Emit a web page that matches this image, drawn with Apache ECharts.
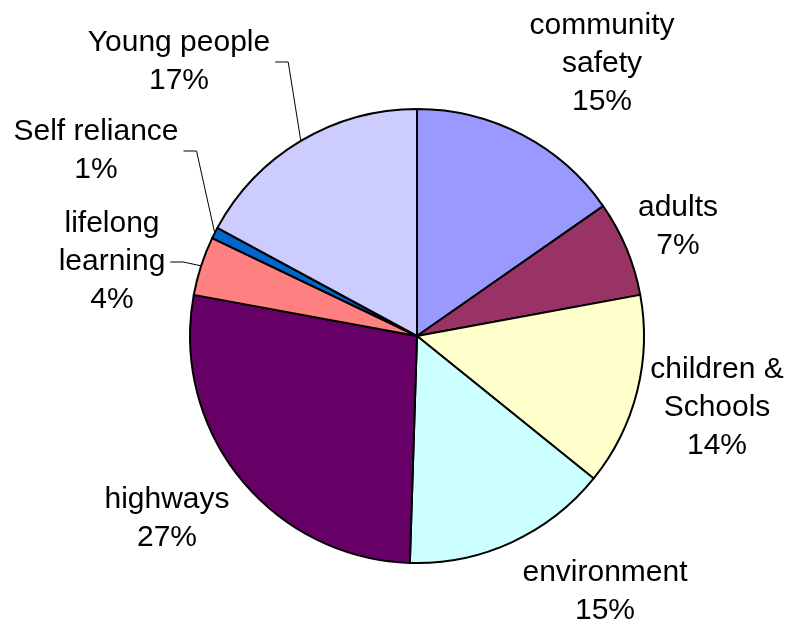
<!DOCTYPE html>
<html>
<head>
<meta charset="utf-8">
<script src="https://cdn.jsdelivr.net/npm/echarts@6/dist/echarts.min.js"></script>
<style>
html,body{margin:0;padding:0;background:#fff;}
#chart{width:788px;height:623px;}
</style>
</head>
<body>
<div id="chart"></div>
<script>
// Data
const categories = ['community\nsafety', 'adults', 'children &\nSchools', 'environment', 'highways', 'lifelong\nlearning', 'Self reliance', 'Young people'];
const values = [15.3, 6.8, 13.7, 14.7, 27.4, 4.2, 0.8, 17.1];

// Styles / layout
const colors = ['#9999FF', '#993366', '#FFFFCC', '#CCFFFF', '#660066', '#FF8080', '#0066CC', '#CCCCFF'];
const labelCenters = [[602, 64], [678, 227], [717, 408], [605, 592], [167, 519], [112, 262], [96, 151], [179, 62]];
const withLeader = [false, false, false, false, false, true, true, true];

const chart = echarts.init(document.getElementById('chart'), null, {renderer: 'canvas'});

const seriesData = categories.map((c, i) => ({
  name: c,
  value: values[i],
  itemStyle: {color: colors[i]},
  labelLine: {show: withLeader[i]}
}));

chart.setOption({
  backgroundColor: '#ffffff',
  animation: false,
  series: [{
    type: 'pie',
    center: [417, 336],
    radius: 227,
    startAngle: 90,
    clockwise: true,
    percentPrecision: 0,
    avoidLabelOverlap: false,
    emphasis: {disabled: true},
    itemStyle: {borderColor: '#000', borderWidth: 2},
    label: {
      show: true,
      position: 'outside',
      formatter: '{b}\n{d}%',
      fontFamily: 'Liberation Sans, Arial, sans-serif',
      fontSize: 30,
      lineHeight: 38,
      color: '#000',
      align: 'center'
    },
    labelLine: {
      show: false,
      length: 10,
      length2: 10,
      lineStyle: {color: '#000', width: 1}
    },
    labelLayout: function (params) {
      const i = params.dataIndex;
      const p = labelCenters[i];
      const out = {x: p[0], y: p[1], align: 'center', verticalAlign: 'middle'};
      if (withLeader[i] && params.labelLinePoints) {
        const edge = params.labelLinePoints[0];
        const xs = p[0] + params.labelRect.width / 2 + 5;
        out.labelLinePoints = [[edge[0], edge[1]], [xs + 13, p[1]], [xs, p[1]]];
      }
      return out;
    },
    data: seriesData
  }]
});
</script>
</body>
</html>
